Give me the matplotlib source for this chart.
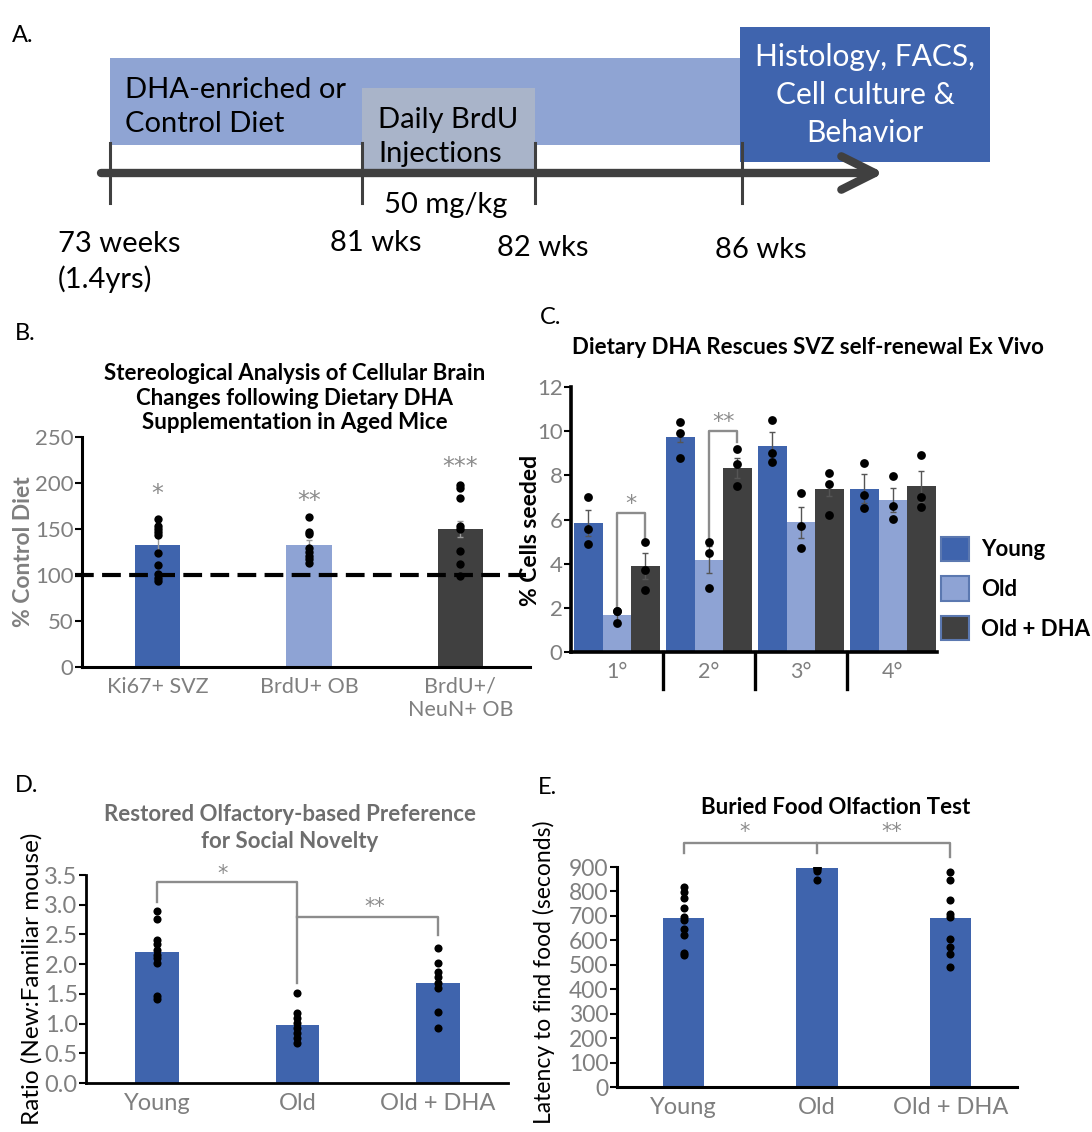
import matplotlib
matplotlib.use("Agg")
import matplotlib.pyplot as plt
import matplotlib.transforms as mtransforms
from matplotlib.patches import Rectangle, Patch

plt.rcParams['font.family'] = ['Lato', 'DejaVu Sans']

# ---------------- data ----------------
# A: study timeline
timeline_labels = ["73 weeks\n(1.4yrs)", "81 wks", "82 wks", "86 wks"]
diet_text = "DHA-enriched or\nControl Diet"
brdu_text = "Daily BrdU\nInjections"
dose_text = "50 mg/kg"
endpoint_text = "Histology, FACS,\nCell culture &\nBehavior"

# B: stereology (% control diet)
b_labels = ["Ki67+ SVZ", "BrdU+ OB", "BrdU+/\nNeuN+ OB"]
b_means = [133, 133, 150]
b_err = [10, 5, 9]
b_points = [
    [161, 153, 150, 147, 144, 124, 111, 101, 97, 93],
    [163, 147, 145, 129, 125, 121, 117, 113],
    [198, 195, 184, 153, 150, 126, 112, 99],
]
b_stars = ["*", "**", "***"]
b_star_level = [188, 180, 217]

# C: self-renewal ex vivo (% cells seeded)
c_passages = ["1°", "2°", "3°", "4°"]
c_groups = ["Young", "Old", "Old + DHA"]
c_young = [5.85, 9.75, 9.35, 7.4]
c_old = [1.67, 4.18, 5.88, 6.87]
c_dha = [3.9, 8.33, 7.36, 7.5]
c_young_err = [0.6, 0.25, 0.6, 0.65]
c_old_err = [0.2, 0.6, 0.7, 0.55]
c_dha_err = [0.6, 0.45, 0.3, 0.7]
c_young_pts = [[7.0, 5.55, 4.9], [10.4, 9.9, 8.8], [10.5, 9.0, 8.6], [8.55, 7.1, 6.5]]
c_old_pts = [[1.85, 1.3, 1.85], [5.0, 4.5, 2.9], [7.2, 5.7, 4.7], [7.97, 6.6, 6.03]]
c_dha_pts = [[5.0, 3.7, 2.8], [9.2, 8.5, 7.5], [8.1, 7.6, 6.2], [8.9, 7.0, 6.55]]

# D: social novelty preference
d_groups = ["Young", "Old", "Old + DHA"]
d_means = [2.2, 0.98, 1.68]
d_points = [
    [2.89, 2.76, 2.41, 2.34, 2.24, 2.16, 2.1, 2.02, 1.46, 1.41],
    [1.51, 1.18, 1.09, 1.01, 0.93, 0.84, 0.76, 0.68],
    [2.27, 2.02, 1.87, 1.79, 1.68, 1.6, 1.2, 0.93],
]

# E: buried food test (seconds)
e_groups = ["Young", "Old", "Old + DHA"]
e_means = [691, 896, 691]
e_points = [
    [818, 798, 775, 734, 695, 685, 648, 620, 548, 539],
    [900, 898, 895, 890, 884, 845],
    [880, 848, 767, 709, 696, 607, 573, 546, 491],
]

# ---------------- style ----------------
W, H = 1092, 1132
DARK_BLUE = '#3F64AD'
LIGHT_BLUE = '#8EA3D4'
DARK_GRAY = '#404040'
TICK_GRAY = '#7F7F7F'
BRACKET = '#8C8C8C'

fig = plt.figure(figsize=(W / 100, H / 100), dpi=100)


def px_rect(left, top, right, bottom):
    return [left / W, 1 - bottom / H, (right - left) / W, (bottom - top) / H]


def ftext(x, y, s, **kw):
    return fig.text(x / W, 1 - y / H, s, **kw)


def style_axis(ax, lw=2, ysize=16, xsize=16):
    for side in ['top', 'right']:
        ax.spines[side].set_visible(False)
    for side in ['left', 'bottom']:
        ax.spines[side].set_linewidth(lw)
        ax.spines[side].set_color('black')
    ax.tick_params(axis='y', direction='out', length=5, width=1.5,
                   labelcolor=TICK_GRAY, labelsize=ysize, pad=1)
    ax.tick_params(axis='x', length=0, labelcolor=TICK_GRAY, labelsize=xsize, pad=7)


def bracket(ax, xs, ys):
    ax.plot(xs, ys, color=BRACKET, lw=1.7, clip_on=False, zorder=5)


def star(ax, x, y, s, size=17):
    ax.text(x, y, s, ha='center', va='center', color=BRACKET, fontsize=size,
            family='DejaVu Sans', clip_on=False, zorder=5)


# ---------------- A: timeline ----------------
tick_x = [110, 362, 535, 742]
ax_a = fig.add_axes(px_rect(0, 0, W, 300))
ax_a.set_xlim(0, W)
ax_a.set_ylim(300, 0)
ax_a.axis('off')
ax_a.add_patch(Rectangle((110, 58), 632, 87, color='#8FA4D3', lw=0))
ax_a.add_patch(Rectangle((362, 88), 173, 82, color='#A9B4C9', lw=0))
ax_a.add_patch(Rectangle((740, 27), 250, 135, color='#3F64AE', lw=0))
ax_a.annotate('', xy=(884, 173), xytext=(101, 173),
              arrowprops=dict(arrowstyle='->,head_length=2.4,head_width=1.2',
                              lw=6, color=DARK_GRAY, shrinkA=0, shrinkB=0))
for x in tick_x:
    ax_a.plot([x, x], [143, 203], color=DARK_GRAY, lw=2.2)

ax_a.text(125, 107, diet_text, fontsize=21, va='center', ha='left', linespacing=1.35)
ax_a.text(378, 137, brdu_text, fontsize=21, va='center', ha='left', linespacing=1.4)
ax_a.text(865, 95, endpoint_text, fontsize=21.5, va='center', ha='center',
          color='white', linespacing=1.45)
ax_a.text(446, 205, dose_text, fontsize=21, va='center', ha='center')
label_pos = [(58, 262), (330, 243), (497, 248), (715, 250)]
for (x, y), lab in zip(label_pos, timeline_labels):
    ax_a.text(x, y, lab, fontsize=21, va='center', ha='left', linespacing=1.35)
ftext(12, 35, "A.", fontsize=17, va='center')

# ---------------- B ----------------
ax_b = fig.add_axes(px_rect(82, 437, 530, 667))
style_axis(ax_b, lw=2.2)
b_x = list(range(len(b_labels)))
b_colors = [DARK_BLUE, LIGHT_BLUE, DARK_GRAY]
ax_b.bar(b_x, b_means, width=0.3, color=b_colors, zorder=2)
ax_b.errorbar(b_x, b_means, yerr=b_err, fmt='none', ecolor='#9A9A9A',
              elinewidth=1, capsize=2, zorder=3)
for xi, pts in zip(b_x, b_points):
    ax_b.scatter([xi] * len(pts), pts, s=36, color='black', zorder=6, lw=0)
for xi, s, lv in zip(b_x, b_stars, b_star_level):
    star(ax_b, xi, lv, s)
blend_b = mtransforms.blended_transform_factory(ax_b.transAxes, ax_b.transData)
ax_b.plot([-0.015, 0.99], [100, 100], transform=blend_b, color='black', lw=3,
          ls=(0, (4.5, 2)), clip_on=False, zorder=4)
ax_b.set_xlim(-0.5, 2.46)
ax_b.set_ylim(0, 250)
ax_b.set_yticks([0, 50, 100, 150, 200, 250])
ax_b.set_xticks(b_x)
ax_b.set_xticklabels(b_labels, fontsize=15.5, va='top', linespacing=1.2)
ax_b.set_ylabel("% Control Diet", fontsize=16.5, fontweight='bold', color=TICK_GRAY,
                labelpad=1)
ftext(15, 333, "B.", fontsize=17, va='center')
ftext(295, 398, "Stereological Analysis of Cellular Brain\nChanges following Dietary DHA\n"
      "Supplementation in Aged Mice", fontsize=16, fontweight='bold', ha='center',
      va='center', linespacing=1.2)

# ---------------- C ----------------
ax_c = fig.add_axes(px_rect(571, 387, 937, 652))
style_axis(ax_c, lw=2.6)
c_x = list(range(len(c_passages)))
bw = 0.31
series = [(c_young, c_young_err, c_young_pts, DARK_BLUE),
          (c_old, c_old_err, c_old_pts, LIGHT_BLUE),
          (c_dha, c_dha_err, c_dha_pts, DARK_GRAY)]
for k, (means, errs, pts, col) in enumerate(series):
    xs = [xi + (k - 1) * bw for xi in c_x]
    ax_c.bar(xs, means, width=bw, color=col, zorder=2)
    ax_c.errorbar(xs, means, yerr=errs, fmt='none', ecolor='#555555',
                  elinewidth=1, capsize=2.5, zorder=3)
    for xx, p in zip(xs, pts):
        ax_c.scatter([xx] * len(p), p, s=40, color='black', zorder=6, lw=0)
blend_c = mtransforms.blended_transform_factory(ax_c.transData, ax_c.transAxes)
for sep in [0.5, 1.5, 2.5]:
    ax_c.plot([sep, sep], [0, -0.14], transform=blend_c, color='black', lw=2.4,
              clip_on=False)
# significance brackets
bracket(ax_c, [0, 0, bw, bw], [2.1, 6.3, 6.3, 5.15])
star(ax_c, bw / 2, 6.7, "*", size=16)
bracket(ax_c, [1, 1, 1 + bw, 1 + bw], [5.1, 10.0, 10.0, 9.5])
star(ax_c, 1 + bw / 2, 10.4, "**", size=16)
ax_c.set_xlim(-0.5, 3.48)
ax_c.set_ylim(0, 12)
ax_c.set_yticks(range(0, 13, 2))
ax_c.set_xticks(c_x)
ax_c.set_xticklabels(c_passages, fontsize=15.5)
ax_c.set_ylabel("% Cells seeded", fontsize=16.5, fontweight='bold')
ax_c.yaxis.set_label_coords(-0.082, 0.46)
handles = [Patch(facecolor=s[3], edgecolor='#5B78B0', lw=1.5) for s in series]
ax_c.legend(handles, c_groups, loc='center left', bbox_to_anchor=(1.0, 0.24),
            frameon=False, handlelength=1.25, handleheight=1.3, handletextpad=0.55,
            labelspacing=0.7, borderaxespad=0.1, borderpad=0.1,
            prop=dict(weight='bold', size=16))
ftext(540, 318, "C.", fontsize=17, va='center')
ftext(808, 347, "Dietary DHA Rescues SVZ self-renewal Ex Vivo", fontsize=16,
      fontweight='bold', ha='center', va='center')

# ---------------- D ----------------
ax_d = fig.add_axes(px_rect(86, 875, 508, 1083))
style_axis(ax_d, lw=2, ysize=17, xsize=17)
d_x = list(range(len(d_groups)))
ax_d.bar(d_x, d_means, width=0.31, color=DARK_BLUE, zorder=2)
for xi, pts in zip(d_x, d_points):
    ax_d.scatter([xi] * len(pts), pts, s=34, color='black', zorder=6, lw=0)
bracket(ax_d, [0, 0, 1, 1], [3.05, 3.38, 3.38, 1.68])
star(ax_d, 0.47, 3.52, "*", size=15)
bracket(ax_d, [1, 2, 2], [2.79, 2.79, 2.49])
star(ax_d, 1.55, 2.96, "**", size=15)
ax_d.set_xlim(-0.505, 2.5)
ax_d.set_ylim(0, 3.5)
ax_d.set_yticks([0, 0.5, 1, 1.5, 2, 2.5, 3, 3.5])
ax_d.set_yticklabels([f"{v:.1f}" for v in ax_d.get_yticks()])
ax_d.set_xticks(d_x)
ax_d.set_xticklabels(d_groups)
ax_d.set_ylabel("Ratio (New:Familiar mouse)", fontsize=17.5, labelpad=1)
ftext(15, 785, "D.", fontsize=17, va='center')
ftext(290, 828, "Restored Olfactory-based Preference\nfor Social Novelty", fontsize=16,
      fontweight='bold', ha='center', va='center', color='#6E6E6E', linespacing=1.3)

# ---------------- E ----------------
ax_e = fig.add_axes(px_rect(617, 867, 1017, 1087))
style_axis(ax_e, lw=2.2, ysize=16.5, xsize=17)
e_x = list(range(len(e_groups)))
ax_e.bar(e_x, e_means, width=0.31, color=DARK_BLUE, zorder=2)
for xi, pts in zip(e_x, e_points):
    ax_e.scatter([xi] * len(pts), pts, s=34, color='black', zorder=6, lw=0)
bracket(ax_e, [0, 0, 1, 1], [957, 998, 998, 957])
bracket(ax_e, [1, 2, 2], [998, 998, 940])
star(ax_e, 0.46, 1042, "*", size=15)
star(ax_e, 1.56, 1042, "**", size=15)
ax_e.set_xlim(-0.5, 2.5)
ax_e.set_ylim(0, 900)
ax_e.set_yticks(range(0, 901, 100))
ax_e.set_xticks(e_x)
ax_e.set_xticklabels(e_groups)
ax_e.set_ylabel("Latency to find food (seconds)", fontsize=16.5)
ax_e.yaxis.set_label_coords(-0.155, 0.52)
ftext(538, 787, "E.", fontsize=17, va='center')
ftext(836, 808, "Buried Food Olfaction Test", fontsize=16, fontweight='bold',
      ha='center', va='center')

fig.savefig("out.png", dpi=100)
